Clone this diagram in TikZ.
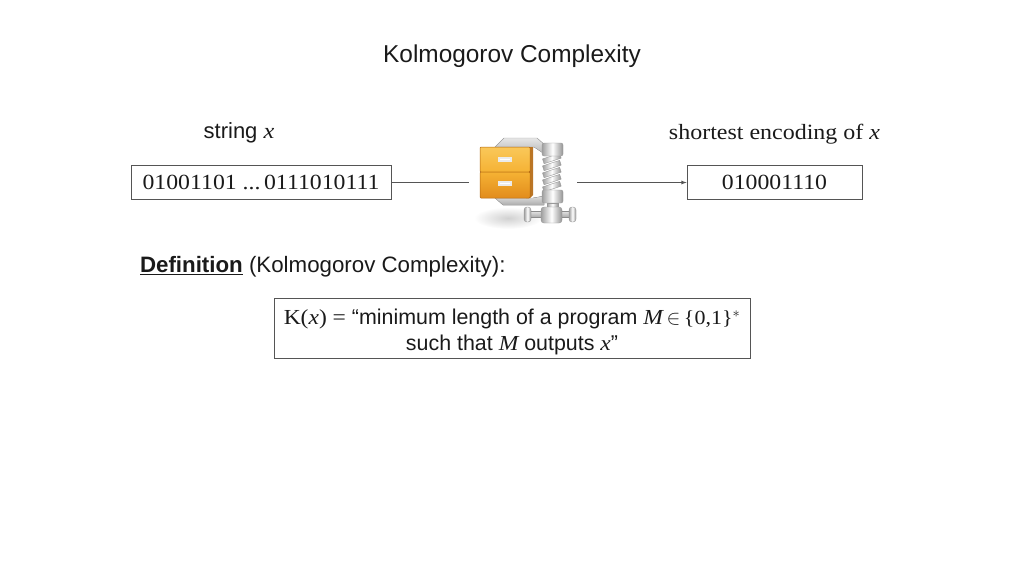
\documentclass[tikz,border=0pt]{standalone}
\usepackage{fontspec}
\setmainfont{Liberation Sans}
\newfontfamily\cambriafont[FakeStretch=1.1]{Liberation Serif}
\definecolor{slidecolor0001}{RGB}{26,26,26}
\definecolor{slidecolor0002}{RGB}{85,85,85}
\definecolor{slidecolor0003}{RGB}{245,178,52}
\definecolor{slidecolor0004}{RGB}{226,140,28}
\definecolor{slidecolor0005}{RGB}{178,102,14}
\definecolor{slidecolor0006}{RGB}{250,200,90}
\newcommand{\mvar}[1]{{\cambriafont\itshape #1}}
\begin{document}
\begin{tikzpicture}[yscale=-1
,pstyle0/.style={color=slidecolor0001,font=\fontsize{21.4}{26}\selectfont}
,pstyle1/.style={color=slidecolor0001,font=\fontsize{21.6}{26}\selectfont\cambriafont}
,pstyle2/.style={draw=slidecolor0002,line width=0.8pt,inner sep=0pt}
,pstyle3/.style={draw=slidecolor0002,line width=0.8pt}
,pstyle4/.style={draw=black!40,line width=0.4pt,left color=gray!75,right color=gray!85,middle color=white}
,pstyle5/.style={draw=black!45,line width=0.4pt,top color=gray!20,bottom color=gray!65}
,pstyle6/.style={draw=slidecolor0005,line width=0.5pt,top color=slidecolor0006,bottom color=slidecolor0003}
]
\useasboundingbox (0pt,0pt) rectangle (1024pt,576pt);
\node (title) at (512pt,56pt)[pstyle0,font=\fontsize{24.4}{28}\selectfont]{Kolmogorov Complexity};
\node (stringlabel) at (239pt,133pt)[pstyle0,font=\fontsize{22}{26}\selectfont]{string \mvar{x}};
\node (encodinglabel) at (774.5pt,134pt)[pstyle1,font=\fontsize{21.8}{26}\selectfont\cambriafont]{shortest encoding of \mvar{x}};
\node (stringbox) at (261pt,182.5pt)[pstyle1,pstyle2,minimum width=260pt,minimum height=34pt]{\raisebox{-1pt}{01001101 ...\,0111010111}};
\node (encodingbox) at (774.5pt,182.5pt)[pstyle1,pstyle2,minimum width=175pt,minimum height=34pt]{\raisebox{-1pt}{010001110}};
\node (archive) at (523pt,182.5pt)[minimum width=108pt,minimum height=90pt]{};
% archive icon
\shade[inner color=black!18,outer color=white] (508pt,218pt) ellipse (34pt and 11pt);
\fill[draw=black!35,line width=0.4pt,top color=gray!20,bottom color=gray!60] (495pt,147pt) -- (504pt,138pt) -- (537pt,138pt) -- (546pt,146pt) -- (546pt,155pt) -- (534pt,147pt) -- cycle;
\fill[draw=black!35,line width=0.4pt,top color=gray!25,bottom color=gray!65] (495pt,198pt) -- (503pt,205pt) -- (544pt,205pt) -- (544pt,196pt) -- (533pt,198pt) -- cycle;
\foreach \sy in {155,162,169,176,183}{
\draw[pstyle4,rotate around={-18:(552pt,\sy pt+4pt)}] (543pt,\sy pt+1pt) rectangle (561pt,\sy pt+6pt);
}
\draw[pstyle4,rounded corners=2pt] (542pt,143pt) rectangle (563pt,156pt);
\draw[pstyle4,rounded corners=2pt] (542pt,190pt) rectangle (563pt,203pt);
\draw[pstyle4] (547pt,203pt) rectangle (558pt,209pt);
\draw[pstyle5] (527pt,211pt) rectangle (573pt,217pt);
\draw[pstyle4,rounded corners=3pt] (541pt,207pt) rectangle (562pt,223pt);
\draw[pstyle4,rounded corners=3pt] (524pt,207pt) rectangle (531pt,222pt);
\draw[pstyle4,rounded corners=3pt] (569pt,207pt) rectangle (576pt,222pt);
\fill[slidecolor0005!90] (526pt,147pt) -- (533pt,147pt) -- (533pt,195pt) -- (530pt,198pt) -- (526pt,198pt) -- cycle;
\draw[pstyle6,rounded corners=1pt] (480pt,147pt) rectangle (530pt,172pt);
\draw[draw=slidecolor0005,line width=0.5pt,top color=slidecolor0003,bottom color=slidecolor0004,rounded corners=1pt] (480pt,172pt) rectangle (530pt,198pt);
\draw[color=white!92!black,line width=1.2pt,fill=white] (499pt,158pt) rectangle (511pt,161pt);
\draw[color=white!92!black,line width=1.2pt,fill=white] (499pt,182pt) rectangle (511pt,185pt);
\draw[pstyle3,line width=0.5pt] (stringbox.east) -- (archive.west);
\draw[pstyle3,-latex] (archive.east) -- (encodingbox.west);
\node (definition) at (136.5pt,267pt)[pstyle0,font=\fontsize{22.3}{26}\selectfont,anchor=west]{\textbf{\underline{Definition}} (Kolmogorov Complexity):};
\node (kbox) at (512pt,328pt)[pstyle2,minimum width=476pt,minimum height=60pt]{};
\node (ktext) at (kbox.center)[pstyle0,yshift=-4pt,align=center,inner sep=0pt]{{\cambriafont K(\mvar{x}) =} “minimum length of a program \mvar{M}\,$\in$\,{\cambriafont\fontsize{20}{26}\selectfont\{0,1\}}$^{*}$\\such that \mvar{M} outputs \mvar{x}”};
\end{tikzpicture}
\end{document}
